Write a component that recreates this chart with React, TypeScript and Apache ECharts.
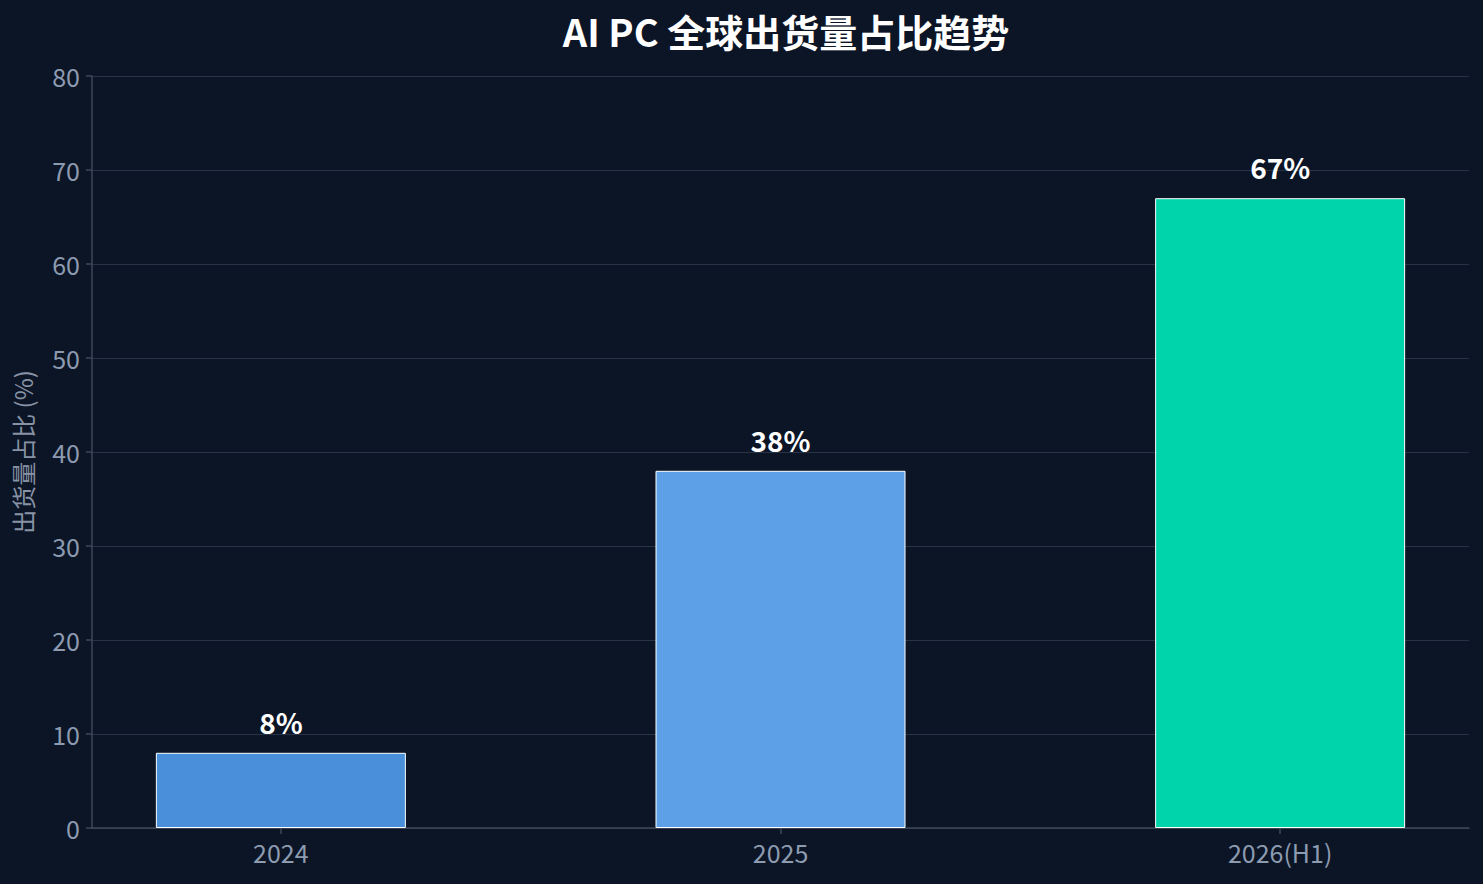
import { useEffect, useRef } from 'react'
import * as echarts from 'echarts'

const categories = ['2024', '2025', '2026(H1)']
const shares = [8, 38, 67]
const barColors = ['#4a8fd9', '#5da0e8', '#00d4aa']
const yTicks = { min: 0, max: 80, step: 10 }

const FONT = '"Noto Sans CJK SC", "Noto Sans", sans-serif'

export default function App() {
  const elRef = useRef<HTMLDivElement>(null)

  useEffect(() => {
    if (!elRef.current) return
    const chart = echarts.init(elRef.current, null, { renderer: 'svg' })
    const positions = categories.map((_, i) => i)

    chart.setOption({
      animation: false,
      backgroundColor: '#0b1526',
      textStyle: { fontFamily: FONT },
      title: {
        text: 'AI PC 全球出货量占比趋势',
        left: 781,
        textAlign: 'center',
        top: 6,
        textStyle: { color: '#ffffff', fontSize: 38, fontWeight: 'bold', fontFamily: FONT },
      },
      grid: { left: 92, right: 14, top: 76, bottom: 56 },
      xAxis: {
        type: 'value',
        // 左右留白与柱宽按参考图比例
        min: -0.378,
        max: 2.378,
        splitLine: { show: false },
        axisLine: { show: true, onZero: false, lineStyle: { color: '#3d4858', width: 1.5 } },
        axisTick: {
          show: true,
          customValues: positions,
          length: 6,
          lineStyle: { color: '#3d4858', width: 1.5 },
        },
        axisLabel: {
          customValues: positions,
          formatter: (v: number) => categories[Math.round(v)] ?? '',
          color: '#8d9bb0',
          fontSize: 25,
          margin: 11,
          fontFamily: FONT,
        },
      },
      yAxis: {
        type: 'value',
        min: yTicks.min,
        max: yTicks.max,
        interval: yTicks.step,
        name: '出货量占比 (%)',
        nameLocation: 'middle',
        nameGap: 58,
        nameTextStyle: { color: '#8892a5', fontSize: 24, fontFamily: FONT },
        axisLine: { show: true, onZero: false, lineStyle: { color: '#3d4858', width: 1.5 } },
        axisTick: { show: true, length: 6, lineStyle: { color: '#3d4858', width: 1.5 } },
        axisLabel: { color: '#8d9bb0', fontSize: 25, margin: 12, fontFamily: FONT },
        splitLine: { lineStyle: { color: '#283445', width: 1.2 } },
      },
      series: [
        {
          type: 'bar',
          barWidth: 250,
          data: shares.map((v, i) => ({
            value: [i, v],
            itemStyle: { color: barColors[i] },
          })),
          itemStyle: { borderColor: '#ffffff', borderWidth: 1 },
          label: {
            show: true,
            position: 'top',
            distance: 17,
            formatter: (p: any) => `${p.value[1]}%`,
            color: '#ffffff',
            fontSize: 28,
            fontWeight: 'bold',
            fontFamily: FONT,
          },
        },
      ],
    })

    const onResize = () => chart.resize()
    window.addEventListener('resize', onResize)
    return () => {
      window.removeEventListener('resize', onResize)
      chart.dispose()
    }
  }, [])

  return (
    <div
      ref={elRef}
      style={{ position: 'fixed', left: 0, top: 0, width: '100vw', height: '100vh' }}
    />
  )
}
